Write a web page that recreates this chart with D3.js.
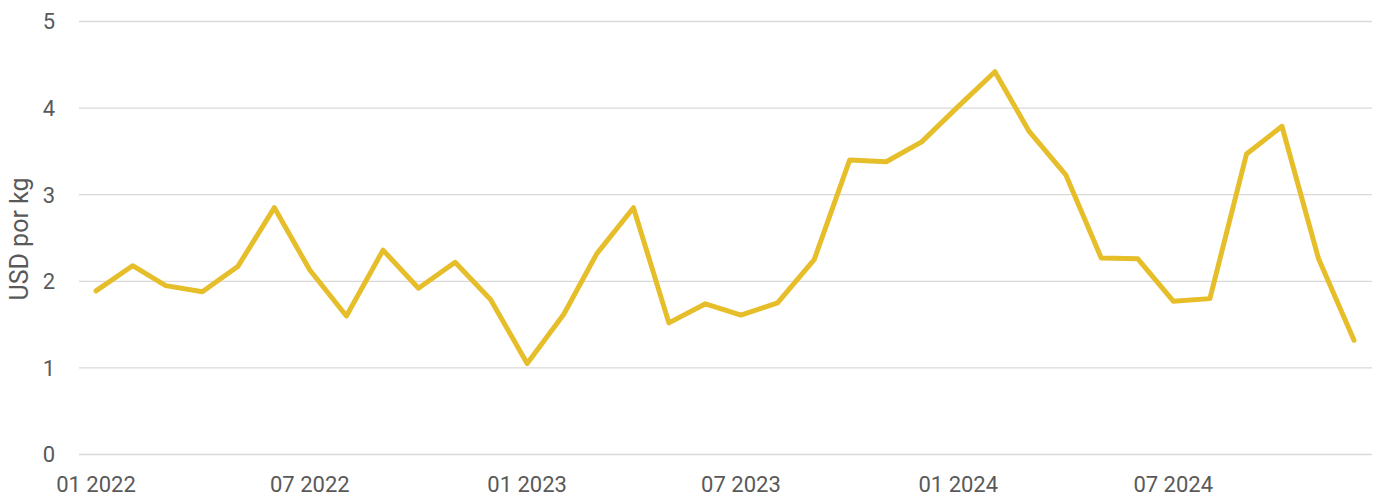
<!DOCTYPE html>
<html>
  <head>
    <meta charset="utf-8" />
    <script src="https://d3js.org/d3.v7.min.js"></script>
    <style>
      body { margin: 0; background: #fff; }
      #chart text { font-family: Roboto, "Noto Sans", sans-serif; fill: #595959; }
    </style>
  </head>
  <body>
    <div id="chart"></div>
    <script type="text/javascript">
var width = 1377, height = 495;

// monthly prices, 01 2022 .. 12 2024
var months = d3.range(36).map(function(i) { return new Date(2022, i, 1); });
var prices = [1.89, 2.18, 1.95, 1.88, 2.17, 2.85, 2.13, 1.60, 2.36, 1.92, 2.22, 1.79,
              1.05, 1.62, 2.32, 2.85, 1.52, 1.74, 1.61, 1.75, 2.25, 3.40, 3.38, 3.61,
              4.02, 4.42, 3.73, 3.23, 2.27, 2.26, 1.77, 1.80, 3.47, 3.79, 2.26, 1.32];
var yTicks = [0, 1, 2, 3, 4, 5];
var xTickLabels = ["01 2022", "07 2022", "01 2023", "07 2023", "01 2024", "07 2024"];
var xTickDates = [new Date(2022, 0, 1), new Date(2022, 6, 1), new Date(2023, 0, 1),
                  new Date(2023, 6, 1), new Date(2024, 0, 1), new Date(2024, 6, 1)];

var svg = d3.select("#chart").append("svg")
  .attr("width", width)
  .attr("height", height);

var x = d3.scaleTime()
  .domain([months[0], months[35]])
  .range([96, 1354]);

var y = d3.scaleLinear()
  .domain([0, 5])
  .range([454.5, 21.5]);

// horizontal gridlines
svg.selectAll(".grid")
  .data(yTicks)
  .enter()
  .append("line")
    .attr("x1", 79)
    .attr("x2", 1372)
    .attr("y1", function(d) { return y(d); })
    .attr("y2", function(d) { return y(d); })
    .attr("stroke", "#d9d9d9")
    .attr("stroke-width", 1.3);

// y tick labels
svg.selectAll(".ylab")
  .data(yTicks)
  .enter()
  .append("text")
    .attr("x", 55)
    .attr("y", function(d) { return y(d); })
    .attr("dy", "0.36em")
    .attr("text-anchor", "end")
    .attr("font-size", 22)
    .text(function(d) { return d; });

// x tick labels
svg.selectAll(".xlab")
  .data(xTickDates)
  .enter()
  .append("text")
    .attr("x", function(d) { return x(d); })
    .attr("y", 492)
    .attr("text-anchor", "middle")
    .attr("font-size", 22)
    .text(function(d, i) { return xTickLabels[i]; });

svg.append("text")
  .attr("transform", "translate(28," + 239 + ") rotate(-90)")
  .attr("text-anchor", "middle")
  .attr("font-size", 25)
  .text("USD por kg");

var line = d3.line()
  .x(function(d, i) { return x(months[i]); })
  .y(function(d) { return y(d); });

svg.append("path")
  .datum(prices)
  .attr("d", line)
  .attr("fill", "none")
  .attr("stroke", "#E6BE2A")
  .attr("stroke-width", 5)
  .attr("stroke-linejoin", "round")
  .attr("stroke-linecap", "round");
    </script>
  </body>
</html>
